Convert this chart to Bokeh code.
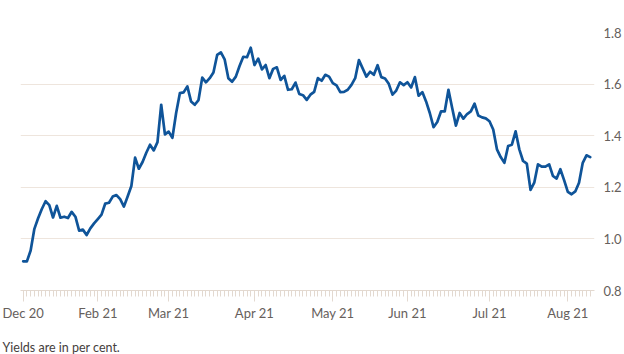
from bokeh.plotting import figure
from bokeh.models import Range1d, FixedTicker, Title
from bokeh.embed import file_html
from bokeh.resources import INLINE

# 10-year yield, per cent, one value per trading day (Dec 31 2020 -> early Aug 2021)
yields = [
    0.913, 0.913, 0.955, 1.039, 1.080, 1.116, 1.146, 1.131, 1.083, 1.128,
    1.082, 1.086, 1.081, 1.105, 1.086, 1.032, 1.036, 1.015, 1.041, 1.060,
    1.077, 1.094, 1.137, 1.140, 1.164, 1.170, 1.154, 1.125, 1.164, 1.205,
    1.315, 1.272, 1.298, 1.334, 1.365, 1.343, 1.375, 1.520, 1.405, 1.416,
    1.392, 1.488, 1.565, 1.568, 1.591, 1.533, 1.520, 1.538, 1.625, 1.607,
    1.623, 1.645, 1.713, 1.723, 1.696, 1.623, 1.609, 1.629, 1.670, 1.706,
    1.704, 1.741, 1.674, 1.699, 1.657, 1.674, 1.623, 1.659, 1.665, 1.616,
    1.632, 1.578, 1.580, 1.606, 1.562, 1.557, 1.539, 1.559, 1.570, 1.623,
    1.613, 1.636, 1.629, 1.604, 1.595, 1.569, 1.570, 1.578, 1.597, 1.623,
    1.693, 1.661, 1.629, 1.648, 1.636, 1.673, 1.627, 1.622, 1.601, 1.559,
    1.575, 1.607, 1.596, 1.607, 1.587, 1.627, 1.555, 1.569, 1.533, 1.488,
    1.433, 1.453, 1.494, 1.494, 1.578, 1.507, 1.439, 1.488, 1.466, 1.484,
    1.494, 1.524, 1.478, 1.471, 1.467, 1.456, 1.424, 1.347, 1.317, 1.295,
    1.360, 1.365, 1.417, 1.347, 1.302, 1.292, 1.190, 1.218, 1.289, 1.280,
    1.280, 1.289, 1.244, 1.234, 1.270, 1.228, 1.182, 1.173, 1.184, 1.218,
    1.295, 1.324, 1.317,
]
month_labels = ["Dec 20", "Feb 21", "Mar 21", "Apr 21", "May 21", "Jun 21", "Jul 21", "Aug 21"]
month_day_index = [0, 20, 39, 62, 83, 103, 125, 146]
y_ticks = [0.8, 1.0, 1.2, 1.4, 1.6, 1.8]
y_tick_labels = ["0.8", "1.0", "1.2", "1.4", "1.6", "1.8"]
footnote = "Yields are in per cent."

days = list(range(len(yields)))

FONT = "Lato"
LABEL_COLOR = "#66605c"
AXIS_COLOR = "#e3d9d0"
GRID_COLOR = "#eee5dd"
LINE_COLOR = "#0f5499"

p = figure(
    width=624, height=354,
    output_backend="svg", toolbar_location=None,
    x_range=Range1d(-0.72, 153.15), y_range=Range1d(0.8, 1.8),
    y_axis_location="right",
    min_border_left=20, min_border_right=27, min_border_top=32, min_border_bottom=62,
)
p.outline_line_color = None
p.background_fill_color = "white"
p.border_fill_color = "white"

p.line(days, yields, line_color=LINE_COLOR, line_width=2.7, line_join="round", line_cap="round")

# x axis
xa = p.xaxis[0]
xa.ticker = FixedTicker(ticks=month_day_index, minor_ticks=days)
xa.major_label_overrides = {k: v for k, v in zip(month_day_index, month_labels)}
xa.axis_line_color = AXIS_COLOR
xa.major_tick_line_color = AXIS_COLOR
xa.minor_tick_line_color = AXIS_COLOR
xa.major_tick_in = 0
xa.major_tick_out = 11
xa.minor_tick_in = 0
xa.minor_tick_out = 6
xa.major_label_standoff = 3
xa.major_label_text_color = LABEL_COLOR
xa.major_label_text_font = FONT
xa.major_label_text_font_size = "13px"

# y axis (right)
ya = p.yaxis[0]
ya.ticker = FixedTicker(ticks=y_ticks)
ya.major_label_overrides = {k: v for k, v in zip(y_ticks, y_tick_labels)}
ya.axis_line_color = None
ya.major_tick_line_color = None
ya.minor_tick_line_color = None
ya.major_label_standoff = 3
ya.major_label_text_color = LABEL_COLOR
ya.major_label_text_font = FONT
ya.major_label_text_font_size = "13px"

p.xgrid.grid_line_color = None
p.ygrid.ticker = FixedTicker(ticks=y_ticks)
p.ygrid.grid_line_color = GRID_COLOR
p.ygrid.grid_line_width = 1

# spacer between the date labels and the footnote
p.add_layout(Title(text=" ", standoff=10, text_font_size="2px"), "below")
p.add_layout(Title(
    text=footnote, align="left", offset=-18, standoff=0, vertical_align="bottom",
    text_font=FONT, text_font_size="12.5px", text_font_style="normal",
    text_color="#45403d",
), "below")

open("out.html", "w").write(file_html(p, INLINE))
